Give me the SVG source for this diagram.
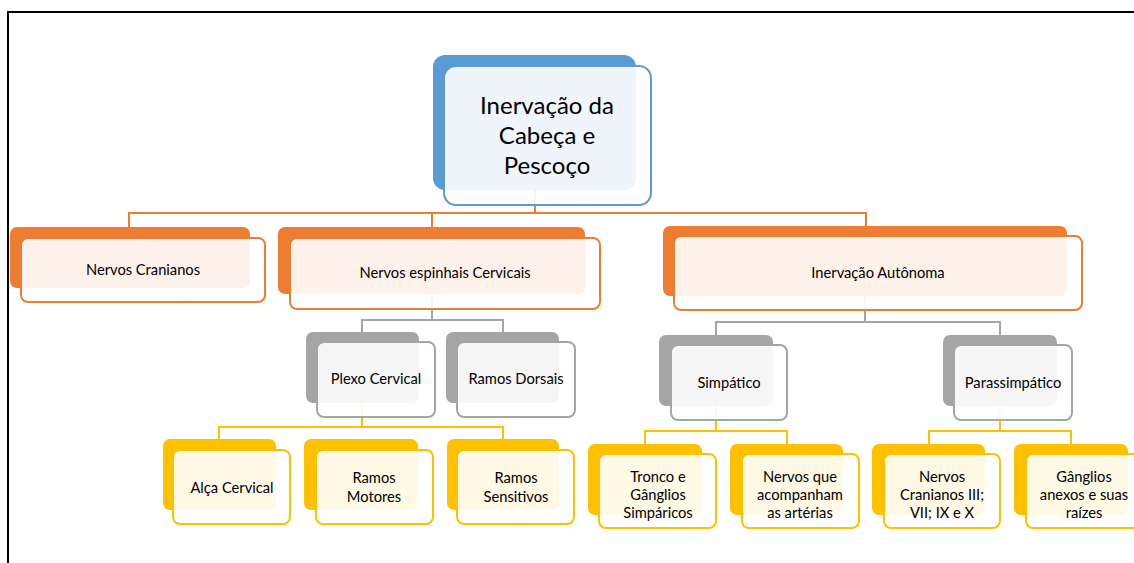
<svg xmlns="http://www.w3.org/2000/svg" width="1134" height="563" viewBox="0 0 1134 563">
<style>
text{font-family:Lato,"Open Sans","Liberation Sans",sans-serif;fill:#000;text-anchor:middle}
.t{font-size:14.7px}
.r{font-size:24px}
.c{fill:none;stroke-width:2}
.co{stroke:#ED7D31}
.cg{stroke:#A5A5A5}
.cy{stroke:#FFC000}
.front{fill:#fff;fill-opacity:0.9;stroke-width:2}
.blue .back{fill:#5B9BD5}.blue .front{stroke:#5B9BD5}
.org .back{fill:#ED7D31}.org .front{stroke:#ED7D31}
.gry .back{fill:#A5A5A5}.gry .front{stroke:#A5A5A5}
.yel .back{fill:#FFC000}.yel .front{stroke:#FFC000}
</style>
<rect width="1134" height="563" fill="#fff"/>
<path d="M8,563 V12 H1134" fill="none" stroke="#000" stroke-width="2"/>
<g id="connectors">
<path class="c co" d="M535,190 V213 M129,227 V213 H866 V226 M432,213 V227"/>
<path class="c cg" d="M432,294 V320 M362,332 V320 H503 V332"/>
<path class="c cg" d="M865,296 V322 M716,335 V322 H1000 V335"/>
<path class="c cy" d="M362,403 V427 M219,439 V427 H503 V439"/>
<path class="c cy" d="M716,406 V431 M645,444 V431 H787 V444"/>
<path class="c cy" d="M1000,406 V431 M929,444 V431 H1071 V444"/>
</g>
<g id="root" class="blue">
<rect class="back" x="433" y="55" width="203" height="135" rx="12"/>
<rect class="front" x="444" y="66" width="207" height="139" rx="12"/>
<text class="r" x="547" y="114">Inervação da</text>
<text class="r" x="547" y="144">Cabeça e</text>
<text class="r" x="547" y="174">Pescoço</text>
</g>
<g id="nervos-cranianos" class="org">
<rect class="back" x="10" y="227" width="240" height="61" rx="7"/>
<rect class="front" x="21" y="238" width="244" height="64" rx="7"/>
<text class="t" x="143" y="275">Nervos Cranianos</text>
</g>
<g id="nervos-espinhais" class="org">
<rect class="back" x="278" y="227" width="307" height="67" rx="7"/>
<rect class="front" x="290" y="238" width="310" height="71" rx="7"/>
<text class="t" x="445" y="278">Nervos espinhais Cervicais</text>
</g>
<g id="inervacao-autonoma" class="org">
<rect class="back" x="663" y="226" width="404" height="70" rx="7"/>
<rect class="front" x="674" y="236" width="408" height="74" rx="7"/>
<text class="t" x="878" y="278">Inervação Autônoma</text>
</g>
<g id="plexo-cervical" class="gry">
<rect class="back" x="306" y="332" width="113" height="71" rx="7"/>
<rect class="front" x="317" y="342" width="118" height="75" rx="7"/>
<text class="t" x="376" y="384">Plexo Cervical</text>
</g>
<g id="ramos-dorsais" class="gry">
<rect class="back" x="446" y="332" width="113" height="71" rx="7"/>
<rect class="front" x="457" y="342" width="118" height="75" rx="7"/>
<text class="t" x="516" y="384">Ramos Dorsais</text>
</g>
<g id="simpatico" class="gry">
<rect class="back" x="659" y="335" width="114" height="71" rx="7"/>
<rect class="front" x="671" y="345" width="116" height="75" rx="7"/>
<text class="t" x="729" y="388">Simpático</text>
</g>
<g id="parassimpatico" class="gry">
<rect class="back" x="943" y="335" width="114" height="71" rx="7"/>
<rect class="front" x="954" y="345" width="118" height="75" rx="7"/>
<text class="t" x="1013" y="388">Parassimpático</text>
</g>
<g id="alca-cervical" class="yel">
<rect class="back" x="163" y="439" width="113" height="71" rx="7"/>
<rect class="front" x="173" y="450" width="117" height="74" rx="7"/>
<text class="t" x="232" y="493">Alça Cervical</text>
</g>
<g id="ramos-motores" class="yel">
<rect class="back" x="304" y="439" width="114" height="71" rx="7"/>
<rect class="front" x="316" y="450" width="117" height="74" rx="7"/>
<text class="t" x="374" y="483">Ramos</text>
<text class="t" x="374" y="502">Motores</text>
</g>
<g id="ramos-sensitivos" class="yel">
<rect class="back" x="447" y="439" width="112" height="71" rx="7"/>
<rect class="front" x="457" y="450" width="117" height="74" rx="7"/>
<text class="t" x="516" y="483">Ramos</text>
<text class="t" x="516" y="502">Sensitivos</text>
</g>
<g id="tronco-ganglios" class="yel">
<rect class="back" x="588" y="444" width="114" height="71" rx="7"/>
<rect class="front" x="599" y="454" width="117" height="74" rx="7"/>
<text class="t" x="658" y="482">Tronco e</text>
<text class="t" x="658" y="500">Gânglios</text>
<text class="t" x="658" y="518">Simpáricos</text>
</g>
<g id="nervos-arterias" class="yel">
<rect class="back" x="730" y="444" width="113" height="71" rx="7"/>
<rect class="front" x="742" y="454" width="117" height="74" rx="7"/>
<text class="t" x="800" y="482">Nervos que</text>
<text class="t" x="800" y="500">acompanham</text>
<text class="t" x="800" y="518">as artérias</text>
</g>
<g id="nervos-cranianos-iii" class="yel">
<rect class="back" x="872" y="444" width="113" height="71" rx="7"/>
<rect class="front" x="884" y="454" width="116" height="74" rx="7"/>
<text class="t" x="942" y="482">Nervos</text>
<text class="t" x="942" y="500">Cranianos III;</text>
<text class="t" x="942" y="518">VII; IX e X</text>
</g>
<g id="ganglios-anexos" class="yel">
<rect class="back" x="1014" y="444" width="114" height="71" rx="7"/>
<rect class="front" x="1026" y="454" width="117" height="74" rx="7"/>
<text class="t" x="1084" y="482">Gânglios</text>
<text class="t" x="1084" y="500">anexos e suas</text>
<text class="t" x="1084" y="518">raízes</text>
</g>
</svg>
